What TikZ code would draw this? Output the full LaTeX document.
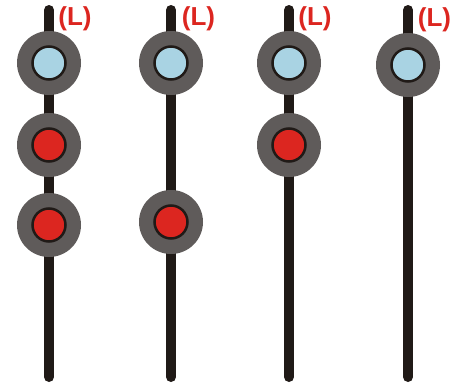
\documentclass[tikz,border=0pt]{standalone}
\usepackage{fontspec}
\setmainfont{Liberation Sans}
\definecolor{ringgrey}{HTML}{5F5B5A}
\definecolor{poleblack}{HTML}{201A17}
\definecolor{lampblue}{HTML}{A9D3E3}
\definecolor{lampred}{HTML}{DC2620}
\definecolor{labelred}{HTML}{DC2620}
\begin{document}
\begin{tikzpicture}[x=1pt,y=-1pt,
  pole/.style={draw=poleblack,line width=10pt,line cap=round},
  ring/.style={circle,fill=ringgrey,minimum size=64pt,inner sep=0pt},
  bluelamp/.style={circle,fill=lampblue,draw=poleblack,line width=2.5pt,minimum size=33pt,inner sep=0pt},
  redlamp/.style={circle,fill=lampred,draw=poleblack,line width=2.5pt,minimum size=33pt,inner sep=0pt},
  lbl/.style={text=labelred,font=\bfseries\fontsize{26}{26}\selectfont,inner sep=0pt}]
\useasboundingbox (0,0) rectangle (461,383);
% poles
\foreach \n/\x in {a/49,b/171,c/289,d/408}{
  \coordinate (top\n) at (\x,10);
  \coordinate (bot\n) at (\x,377);
  \draw[pole] (top\n) -- (bot\n);
}
% column 1
\node[ring] (r1a) at (49,63) {}; \node[bluelamp] (l1a) at (r1a) {};
\node[ring] (r1b) at (49,145) {}; \node[redlamp] (l1b) at (r1b) {};
\node[ring] (r1c) at (49,225) {}; \node[redlamp] (l1c) at (r1c) {};
% column 2
\node[ring] (r2a) at (171,63) {}; \node[bluelamp] (l2a) at (r2a) {};
\node[ring] (r2b) at (171,222) {}; \node[redlamp] (l2b) at (r2b) {};
% column 3
\node[ring] (r3a) at (289,63) {}; \node[bluelamp] (l3a) at (r3a) {};
\node[ring] (r3b) at (289,145) {}; \node[redlamp] (l3b) at (r3b) {};
% column 4
\node[ring] (r4a) at (408,65) {}; \node[bluelamp] (l4a) at (r4a) {};
% labels
\node[lbl] (t1) at (75,19) {(L)};
\node[lbl] (t2) at (198.5,19) {(L)};
\node[lbl] (t3) at (315,19) {(L)};
\node[lbl] (t4) at (434.5,20) {(L)};
\end{tikzpicture}
\end{document}
